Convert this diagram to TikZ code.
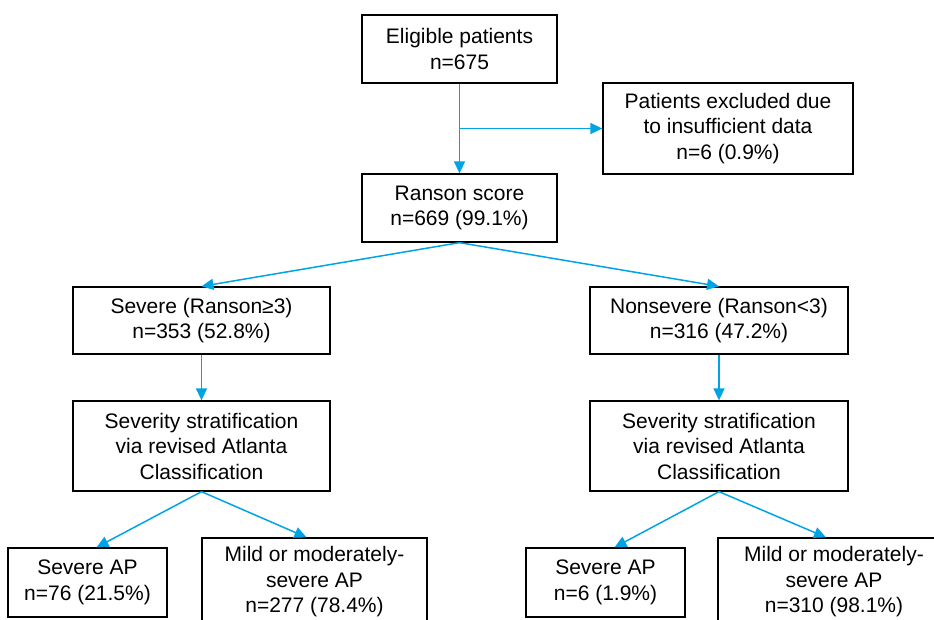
\documentclass[tikz,border=0pt]{standalone}
\usepackage{fontspec}
\setmainfont{Liberation Sans}
\usetikzlibrary{arrows.meta}
\definecolor{flowblue}{RGB}{0,164,228}

\begin{document}
\begin{tikzpicture}[x=1pt, y=-1pt,
    box/.style={draw, line width=1.3pt, align=center, inner sep=0pt, font=\fontsize{21}{25.5}\selectfont},
    flow/.style={flowblue, line width=1.5pt, -{Triangle[length=12pt, width=11pt]}}]
    \clip (0,0) rectangle (934,619);

    % Top: eligible patients and exclusions
    \node[box, minimum width=195pt, minimum height=68pt] (elig) at (459.5,49) {Eligible patients\\n=675};
    \node[box, minimum width=250pt, minimum height=91pt] (excl) at (728,128.5) {Patients excluded due\\to insufficient data\\n=6 (0.9\%)};
    \node[box, minimum width=195pt, minimum height=68pt] (ranson) at (459.5,208) {Ranson score\\n=669 (99.1\%)};

    % Ranson split
    \node[box, minimum width=257pt, minimum height=67pt] (sev) at (201.5,320.5) {Severe (Ranson≥3)\\n=353 (52.8\%)};
    \node[box, minimum width=258pt, minimum height=67pt] (nonsev) at (719,320.5) {Nonsevere (Ranson<3)\\n=316 (47.2\%)};

    % Atlanta stratification
    \node[box, minimum width=257pt, minimum height=90pt] (strat1) at (201.5,446) {Severity stratification\\via revised Atlanta\\Classification};
    \node[box, minimum width=258pt, minimum height=90pt] (strat2) at (719,446) {Severity stratification\\via revised Atlanta\\Classification};

    % Outcomes
    \node[box, minimum width=159pt, minimum height=69pt] (sap1) at (87.5,582.5) {Severe AP\\n=76 (21.5\%)};
    \node[box, minimum width=225pt, minimum height=88pt] (mild1) at (314.5,582) {Mild or moderately-\\severe AP\\n=277 (78.4\%)};
    \node[box, minimum width=159pt, minimum height=69pt] (sap2) at (605.5,582.5) {Severe AP\\n=6 (1.9\%)};
    \node[box, minimum width=232pt, minimum height=88pt] (mild2) at (834,582) {Mild or moderately-\\severe AP\\n=310 (98.1\%)};

    % Arrows
    \draw[flow] (elig) -- (ranson);
    \draw[flow] (elig.south |- excl.west) -- (excl.west);
    \draw[flow] (ranson.south) -- (sev.north);
    \draw[flow] (ranson.south) -- (nonsev.north);
    \foreach \i in {1,2} {
        \draw[flow] (strat\i.south) -- ([xshift=9pt]sap\i.north);
        \draw[flow] (strat\i.south) -- ([xshift=-8pt]mild\i.north);
    }
    \draw[flow] (sev) -- (strat1);
    \draw[flow] (nonsev) -- (strat2);
\end{tikzpicture}
\end{document}
